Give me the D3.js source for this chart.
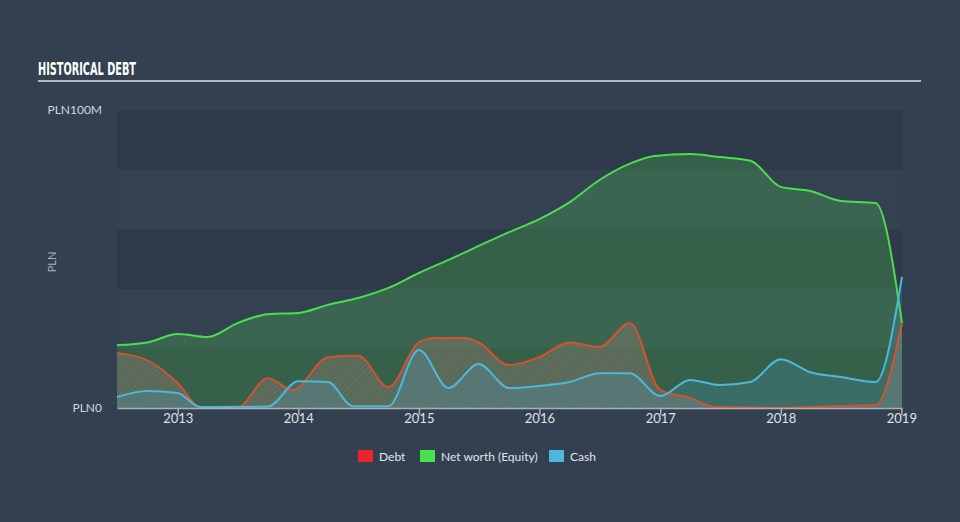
<!DOCTYPE html>
<html>
<head>
<meta charset="utf-8">
<style>
  html, body { margin: 0; padding: 0; background: #334050; }
  svg { display: block; }
</style>
</head>
<body>
<script src="https://d3js.org/d3.v7.min.js"></script>
<script>
  // values in millions of PLN
  var debtDates  = ["2012-07-01","2012-10-01","2013-01-01","2013-03-10","2013-07-01","2013-10-01","2013-12-15","2014-04-01","2014-07-01","2014-10-01","2015-01-01","2015-02-20","2015-05-20","2015-07-01","2015-10-01","2016-01-01","2016-04-01","2016-07-01","2016-10-01","2017-01-01","2017-04-01","2017-06-15","2018-01-01","2018-07-01","2018-10-15","2019-01-03"];
  var debtValues = [18.5, 16, 8.4, 0.3, 0.3, 10, 6, 17, 17.5, 7, 22, 23.5, 23.5, 22, 14.4, 17.1, 22, 20.5, 28.5, 6, 3.4, 0.3, 0.1, 0.7, 1, 28.5];

  var equityDates  = ["2012-07-01","2012-10-01","2013-01-01","2013-04-01","2013-07-01","2013-10-01","2014-01-01","2014-04-01","2014-07-01","2014-10-01","2015-01-01","2015-04-01","2015-07-01","2015-10-01","2016-01-01","2016-04-01","2016-07-01","2016-10-01","2016-12-15","2017-04-01","2017-07-01","2017-10-01","2018-01-01","2018-04-01","2018-07-01","2018-10-15","2019-01-03"];
  var equityValues = [21.1, 22, 24.8, 23.8, 28.5, 31.5, 31.9, 34.6, 36.9, 40.3, 45.3, 49.7, 54.4, 59, 63.4, 69, 76.5, 82, 84.6, 85.2, 84.2, 83, 74.2, 72.8, 69.5, 68.8, 28.5];

  var cashDates  = ["2012-07-01","2012-10-01","2013-01-01","2013-03-10","2013-10-01","2014-01-01","2014-04-01","2014-06-15","2014-10-01","2015-01-01","2015-04-01","2015-07-01","2015-10-01","2016-01-01","2016-04-01","2016-07-01","2016-10-01","2017-01-01","2017-04-01","2017-07-01","2017-10-01","2018-01-01","2018-04-01","2018-07-01","2018-10-15","2019-01-03"];
  var cashValues = [3.7, 5.7, 5, 0.3, 0.5, 9, 8.7, 0.6, 0.6, 19.5, 6.7, 14.8, 6.7, 7.4, 8.7, 11.7, 11.7, 4, 9.4, 7.7, 8.7, 16.4, 12, 10.4, 8.7, 44];

  var yearTicks = [2013, 2014, 2015, 2016, 2017, 2018, 2019];
  var bandStarts = [0, 20, 40, 60, 80];
  var legendItems = ["Debt", "Net worth (Equity)", "Cash"];
  var legendColors = ["#e8262a", "#4be04f", "#4fb8dd"];

  var width = 960, height = 522;
  var plotLeft = 117, plotRight = 902, plotTop = 110, plotBottom = 408;
  var parse = d3.timeParse("%Y-%m-%d");

  var svg = d3.select("body").append("svg").attr("width", width).attr("height", height);

  var x = d3.scaleTime()
    .domain([parse("2012-07-01"), parse("2019-01-03")])
    .range([plotLeft, plotRight]);
  var y = d3.scaleLinear().domain([0, 100]).range([plotBottom, plotTop]);

  function toSeries(dates, values) {
    return dates.map(function (d, i) { return { date: parse(d), value: values[i] }; });
  }
  var debt = toSeries(debtDates, debtValues);
  var equity = toSeries(equityDates, equityValues);
  var cash = toSeries(cashDates, cashValues);

  // title
  svg.append("text")
    .attr("x", 38).attr("y", 75)
    .attr("textLength", 98).attr("lengthAdjust", "spacingAndGlyphs")
    .style("font-family", "'DejaVu Sans Condensed', 'DejaVu Sans', sans-serif")
    .style("font-weight", "bold").style("font-size", "18px")
    .style("fill", "#ffffff")
    .text("HISTORICAL DEBT");
  svg.append("rect").attr("x", 38).attr("y", 80).attr("width", 883).attr("height", 2).attr("fill", "#b4b9c0");

  // background bands (every other 20M is darker)
  svg.selectAll(".band").data(bandStarts).enter().append("rect")
    .attr("class", "band")
    .attr("x", plotLeft).attr("width", plotRight - plotLeft)
    .attr("y", function (d) { return y(d + 20); })
    .attr("height", function (d) { return y(d) - y(d + 20); })
    .attr("fill", function (d, i) { return i % 2 === 0 ? "#2e3a49" : "#354353"; })
    .attr("opacity", function (d, i) { return i % 2 === 0 ? 1 : 0.4; });

  // hatch for debt
  var defs = svg.append("defs");
  var pat = defs.append("pattern").attr("id", "hatch")
    .attr("patternUnits", "userSpaceOnUse").attr("width", 4).attr("height", 4)
    .attr("patternTransform", "rotate(45)");
  pat.append("rect").attr("width", 4).attr("height", 4).attr("fill", "rgba(150,150,150,0.25)");
  pat.append("line").attr("x1", 0).attr("y1", 0).attr("x2", 0).attr("y2", 4)
    .attr("stroke", "rgba(205,85,55,0.6)").attr("stroke-width", 1.3);

  var area = d3.area().curve(d3.curveMonotoneX)
    .x(function (d) { return x(d.date); })
    .y0(y(0))
    .y1(function (d) { return y(d.value); });
  var line = d3.line().curve(d3.curveMonotoneX)
    .x(function (d) { return x(d.date); })
    .y(function (d) { return y(d.value); });

  svg.append("path").datum(equity).attr("d", area).attr("fill", "rgba(75,185,80,0.3)");
  svg.append("path").datum(debt).attr("d", area).attr("fill", "url(#hatch)");
  svg.append("path").datum(cash).attr("d", area).attr("fill", "rgba(70,170,225,0.18)");

  svg.append("path").datum(equity).attr("d", line).attr("fill", "none").attr("stroke", "#4ade4c").attr("stroke-width", 2);
  svg.append("path").datum(debt).attr("d", line).attr("fill", "none").attr("stroke", "#d9502e").attr("stroke-width", 2);
  svg.append("path").datum(cash).attr("d", line).attr("fill", "none").attr("stroke", "#4bb8dc").attr("stroke-width", 2);

  // x axis
  var xAxis = d3.axisBottom(x)
    .tickValues(yearTicks.map(function (d) { return new Date(d, 0, 1); }))
    .tickFormat(d3.timeFormat("%Y"))
    .tickSize(7).tickSizeOuter(0);
  var gx = svg.append("g").attr("transform", "translate(0," + plotBottom + ")").call(xAxis);
  gx.select(".domain").attr("stroke", "#a9b0ba").attr("stroke-width", 1.5);
  gx.selectAll(".tick line").attr("stroke", "#a9b0ba").attr("stroke-width", 1.5);
  gx.selectAll(".tick text")
    .attr("y", 6).attr("dy", "0.71em")
    .style("font-family", "Lato, 'Open Sans', sans-serif").style("font-size", "13px")
    .style("fill", "#dfe2e6");

  // y labels
  svg.selectAll(".ylab").data([0, 100]).enter().append("text")
    .attr("class", "ylab")
    .attr("x", 102).attr("y", function (d) { return y(d) + 4; })
    .attr("text-anchor", "end")
    .style("font-family", "Lato, 'Open Sans', sans-serif").style("font-size", "12px")
    .style("fill", "#d3d7dc")
    .text(function (d) { return d === 0 ? "PLN0" : "PLN100M"; });
  svg.append("text")
    .attr("transform", "translate(56,262) rotate(-90)")
    .attr("text-anchor", "middle")
    .style("font-family", "Lato, 'Open Sans', sans-serif").style("font-size", "11px")
    .style("fill", "#a9b0ba")
    .text("PLN");

  // legend
  var legendX = [358, 420, 549];
  var leg = svg.selectAll(".leg").data(legendItems).enter().append("g")
    .attr("class", "leg")
    .attr("transform", function (d, i) { return "translate(" + legendX[i] + ",450)"; });
  leg.append("rect").attr("width", 15).attr("height", 12)
    .attr("fill", function (d, i) { return legendColors[i]; });
  leg.append("text").attr("x", 21).attr("y", 10.5)
    .style("font-family", "Lato, 'Open Sans', sans-serif").style("font-size", "12px")
    .style("fill", "#e1e4e8")
    .text(function (d) { return d; });
</script>
</body>
</html>
